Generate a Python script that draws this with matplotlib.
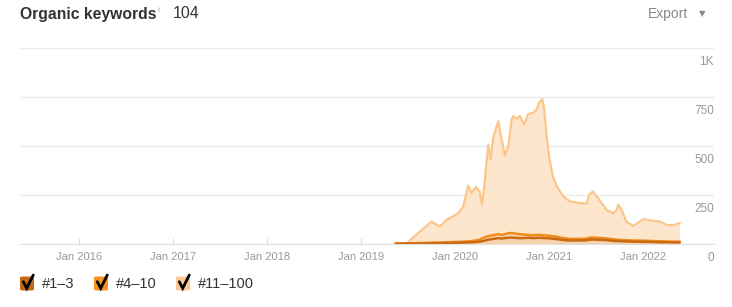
import matplotlib.pyplot as plt
import matplotlib.transforms as mtransforms
from matplotlib.patches import FancyBboxPatch
from matplotlib.lines import Line2D
import pandas as pd
import numpy as np

plt.rcParams['font.family'] = ['Liberation Sans', 'DejaVu Sans']

# Daten
dates = ['2019-05-15', '2019-06-26', '2019-08-16', '2019-10-01', '2019-11-02', '2019-11-28',
         '2020-01-12', '2020-02-01', '2020-02-20', '2020-03-04', '2020-03-21', '2020-04-05',
         '2020-04-14', '2020-04-25', '2020-05-08', '2020-05-17', '2020-05-27', '2020-06-16',
         '2020-06-29', '2020-07-12', '2020-07-25', '2020-08-07', '2020-08-13', '2020-08-26',
         '2020-09-08', '2020-09-24', '2020-10-10', '2020-10-30', '2020-11-12', '2020-11-22',
         '2020-12-04', '2020-12-10', '2020-12-21', '2021-01-01', '2021-01-14', '2021-01-29',
         '2021-02-24', '2021-03-21', '2021-04-16', '2021-05-25', '2021-06-04', '2021-06-18',
         '2021-07-03', '2021-07-22', '2021-08-11', '2021-09-06', '2021-09-19', '2021-09-25',
         '2021-10-08', '2021-10-27', '2021-11-22', '2022-01-01', '2022-02-09', '2022-03-07',
         '2022-04-02', '2022-04-28', '2022-05-21']

pos_1_3 = [1, 2, 2, 3, 4, 5, 6, 7, 8, 9, 10, 12, 14, 18, 22, 24, 26, 30, 28, 30, 32, 33, 32, 31,
           30, 30, 32, 30, 31, 32, 31, 30, 30, 29, 27, 25, 20, 18, 18, 19, 22, 23, 22, 21, 20, 16,
           15, 15, 14, 13, 12, 11, 10, 9, 9, 8, 8]
pos_4_10 = [1, 1, 3, 4, 4, 4, 5, 5, 6, 6, 8, 10, 14, 17, 18, 18, 19, 20, 18, 20, 23, 23, 23, 21,
            20, 18, 15, 15, 15, 15, 14, 14, 14, 13, 13, 12, 10, 8, 8, 8, 10, 10, 10, 9, 8, 8,
            7, 7, 7, 6, 6, 6, 5, 5, 4, 4, 4]
pos_11_100 = [0, 0, 58, 107, 81, 114, 146, 179, 284, 245, 273, 246, 172, 293, 468, 389, 497, 577,
              487, 401, 444, 580, 598, 588, 603, 562, 615, 625, 641, 675, 694, 660, 506, 389, 305,
              257, 213, 191, 186, 178, 219, 235, 211, 179, 146, 133, 152, 178, 153, 95, 74, 110,
              103, 100, 84, 85, 94]

y_ticks = [0, 250, 500, 750, 1000]
y_labels = ['0', '250', '500', '750', '1K']
x_years = [2016, 2017, 2018, 2019, 2020, 2021, 2022]

x = pd.to_datetime(dates)
s1 = np.array(pos_1_3)
s2 = s1 + np.array(pos_4_10)
s3 = s2 + np.array(pos_11_100)

W, H = 732, 307
fig = plt.figure(figsize=(W / 100, H / 100), dpi=100)
ax = fig.add_axes([20 / W, 1 - 244 / H, 694 / W, 196 / H])

c_dark = '#c96a12'
c_mid = '#f08c1a'
c_light = '#fbc68c'

ax.fill_between(x, s2, s3, color='#fee6cc', lw=0)
ax.fill_between(x, s1, s2, color='#fcd9b4', lw=0)
ax.fill_between(x, 0, s1, color='#f6d2ae', lw=0)
ax.plot(x, s3, color=c_light, lw=1.6)
ax.plot(x, s2, color=c_mid, lw=1.8)
ax.plot(x, s1, color=c_dark, lw=1.8)

ax.set_xlim(pd.Timestamp('2015-05-16'), pd.Timestamp('2022-10-02'))
ax.set_ylim(0, 1000)

ax.set_yticks(y_ticks)
ax.tick_params(axis='y', length=0, labelleft=False)
ax.grid(axis='y', color='#ebebeb', lw=1)
ax.set_axisbelow(True)

ax.set_xticks([pd.Timestamp(f'{y}-01-01') for y in x_years])
ax.set_xticklabels([f'Jan {y}' for y in x_years], color='#999999', fontsize=8)
ax.tick_params(axis='x', direction='in', length=4.3, color='#dddddd', pad=6)

for sp in ['top', 'right', 'left']:
    ax.spines[sp].set_visible(False)
ax.spines['bottom'].set_color('#e0e0e0')

trans = mtransforms.blended_transform_factory(ax.transAxes, ax.transData)
trans = mtransforms.offset_copy(trans, fig=fig, x=0, y=-14, units='dots')
for v, lab in zip(y_ticks, y_labels):
    ax.text(1.0, v, lab, transform=trans, ha='right', va='center', fontsize=8.5, color='#999999')

# Kopfzeile
fig.text(20 / W, 1 - 14 / H, 'Organic keywords', fontsize=11.3, fontweight='bold',
         color='#333333', va='center', ha='left')
fig.text(158 / W, 1 - 11 / H, 'i', fontsize=6, color='#999999', va='center', ha='left')
fig.text(173 / W, 1 - 14 / H, '104', fontsize=11.5, color='#333333', va='center', ha='left')
fig.text(648 / W, 1 - 14 / H, 'Export', fontsize=10, color='#888888', va='center', ha='left')
fig.text(702 / W, 1 - 14 / H, '▼', fontsize=6, color='#888888', va='center', ha='center',
         family=['DejaVu Sans'])

# Legende
legend = [('#1–3', '#c46a14', 20, 42),
          ('#4–10', '#f7931e', 94, 116),
          ('#11–100', '#fdc894', 176, 198)]
for lab, box, bx, tx in legend:
    fig.patches.append(FancyBboxPatch((bx / W, 1 - 290.5 / H), 14 / W, 14 / H,
                                      boxstyle='round,pad=0,rounding_size=0.004',
                                      transform=fig.transFigure, fc=box, ec='none'))
    fig.lines.append(Line2D([(bx + 3.3) / W, (bx + 6.7) / W, (bx + 13.3) / W],
                            [1 - 281.7 / H, 1 - 288.3 / H, 1 - 275 / H],
                            transform=fig.transFigure, color='black', lw=2.0,
                            solid_capstyle='round', solid_joinstyle='miter'))
    fig.text(tx / W, 1 - 284 / H, lab, fontsize=10.5, color='#333333', va='center', ha='left')

fig.savefig('out.png', dpi=100)
